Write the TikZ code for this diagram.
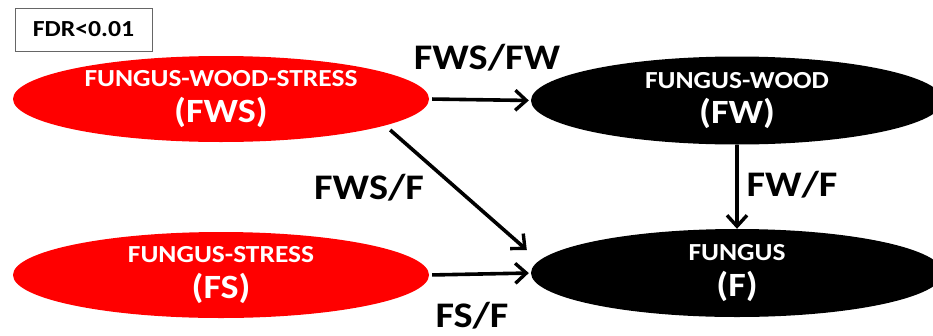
\documentclass[tikz,border=0pt]{standalone}
\usepackage{fontspec}
\setmainfont{Carlito}[FakeStretch=1.12]
\usetikzlibrary{shapes.geometric,arrows.meta,calc}
\definecolor{fwsred}{RGB}{255,0,0}
\newcommand\smalltxt{\fontsize{24.5}{28}\selectfont}
\newcommand\bigtxt{\fontsize{34}{38}\selectfont}
\begin{document}
\begin{tikzpicture}[x=1pt,y=-1pt,
  blob/.style={ellipse,inner sep=0pt,text=white,align=center,font=\bfseries},
  redblob/.style={blob,fill=fwsred,minimum width=416pt,minimum height=86pt},
  blackblob/.style={blob,fill=black,minimum width=412pt,minimum height=88pt},
  arr/.style={line width=3.6pt,-{Straight Barb[length=11pt,width=20pt,line width=3.4pt]}},
  lbl/.style={font=\fontsize{36}{40}\selectfont\bfseries,inner sep=0pt}]
\useasboundingbox (0,0) rectangle (933,335);
\clip (0,0) rectangle (933,335);
\fill[white] (0,0) rectangle (933,335);
\node[draw=gray!80!black,line width=1pt,minimum width=137pt,minimum height=43pt,inner sep=0pt,font=\fontsize{23}{26}\selectfont\bfseries] (fdr) at (83.5,29.5) {FDR<0.01};
\node[redblob] (fws) at (221,99) {\smalltxt FUNGUS-WOOD-STRESS\\[9pt]\bigtxt (FWS)};
\node[blackblob] (fw) at (737,100.5) {\smalltxt FUNGUS-WOOD\\[9pt]\bigtxt (FW)};
\node[redblob] (fs) at (221,275) {\smalltxt FUNGUS-STRESS\\[9pt]\bigtxt (FS)};
\node[blackblob] (f) at (737,273) {\smalltxt FUNGUS\\[9pt]\bigtxt (F)};
\coordinate (d1) at ($(fws.east)+(-39,31)$);
\coordinate (d2) at ($(f.west)+(-4,-23)$);
\draw[arr,shorten <=3pt,shorten >=2pt] (fws.east) -- (fw.west);
\draw[arr] (d1) -- (d2);
\draw[arr] (fw.south) -- (f.north);
\draw[arr,shorten <=3pt,shorten >=2pt] (fs.east) -- (f.west);
\node[lbl] (l1) at (487,58) {FWS/FW};
\node[lbl] (l2) at (369,188) {FWS/F};
\node[lbl] (l3) at (792,185) {FW/F};
\node[lbl] (l4) at (472,316) {FS/F};
\end{tikzpicture}
\end{document}
